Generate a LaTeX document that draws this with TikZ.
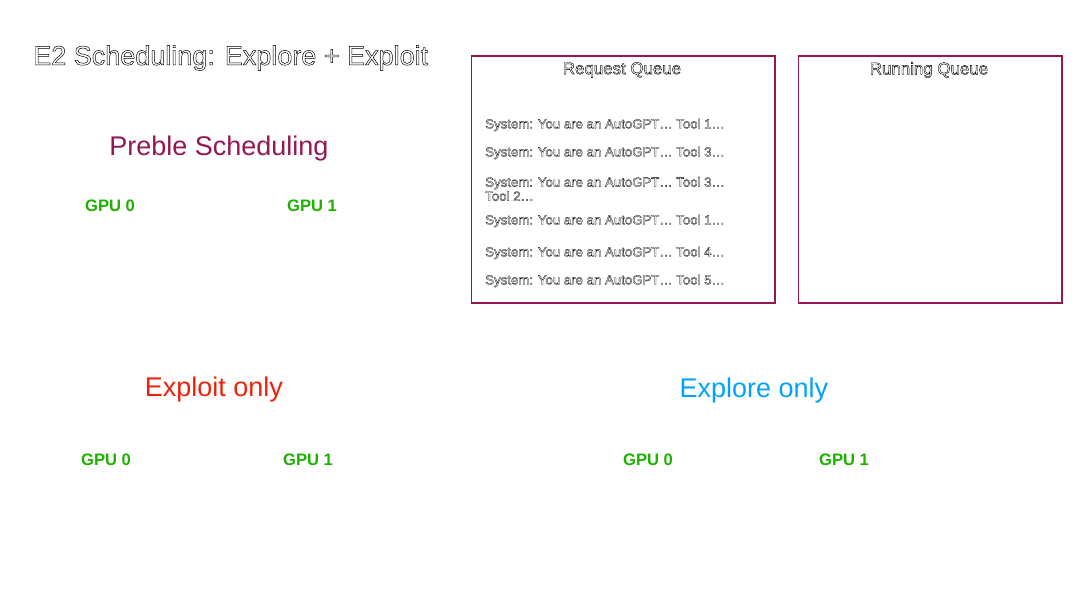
\documentclass[tikz,border=0pt]{standalone}
\usepackage{fontspec}
\setmainfont{Liberation Sans}
\usetikzlibrary{positioning}

\definecolor{plum}{HTML}{941751}
\definecolor{gpugreen}{HTML}{1DB100}
\definecolor{exploitred}{HTML}{EE220C}
\definecolor{exploreblue}{HTML}{00A2FF}

% outlined (hollow) letters
\newcommand{\hollow}[2][0.3]{\special{pdf:literal direct 1 Tr #1 w}#2\special{pdf:literal direct 0 Tr}}

\begin{document}
\begin{tikzpicture}[
    x=0.025cm, y=-0.025cm,
    heading/.style = {inner sep=0pt, font=\fontsize{19.2}{22}\selectfont},
    gpu/.style = {inner sep=0pt, text=gpugreen, font=\fontsize{11.8}{14}\selectfont\bfseries},
    queue/.style = {draw=plum, line width=1.4pt, anchor=north west, minimum height=6.175cm},
    qtitle/.style = {inner sep=0pt, font=\fontsize{12}{14}\selectfont},
    req/.style = {inner sep=0pt, anchor=west, align=left, font=\fontsize{9.4}{10}\selectfont}
]
\useasboundingbox (0,0) rectangle (1080,608);

% title
\node[heading, anchor=west] (title) at (33,58) {\hollow[0.35]{E2 Scheduling: Explore + Exploit}};

% preble
\node[heading, text=plum] (preble) at (219,149) {Preble Scheduling};
\node[gpu] (pgpu0) at (110,206) {GPU 0};
\node[gpu] (pgpu1) at (312,206) {GPU 1};

% queues
\node[queue, minimum width=7.575cm] (reqq) at (470.5,55) {};
\node[queue, minimum width=6.575cm] (runq) at (797.5,55) {};
\node[qtitle] (reqtitle) at (622,70) {\hollow{Request Queue}};
\node[qtitle] (runtitle) at (929,70) {\hollow{Running Queue}};

\node[req] (r1) at (485,125) {\hollow[0.2]{System: You are an AutoGPT… Tool 1…}};
\node[req] (r2) at (485,153) {\hollow[0.2]{System: You are an AutoGPT… Tool 3…}};
\node[req] (r3) at (485,189) {\hollow[0.2]{System: You are an AutoGPT… Tool 3…}\\\hollow[0.2]{Tool 2…}};
\node[req] (r4) at (485,221) {\hollow[0.2]{System: You are an AutoGPT… Tool 1…}};
\node[req] (r5) at (485,253) {\hollow[0.2]{System: You are an AutoGPT… Tool 4…}};
\node[req] (r6) at (485,281) {\hollow[0.2]{System: You are an AutoGPT… Tool 5…}};

% exploit only
\node[heading, text=exploitred] (exploit) at (214,390) {Exploit only};
\node[gpu] (xgpu0) at (106,460) {GPU 0};
\node[gpu] (xgpu1) at (308,460) {GPU 1};

% explore only
\node[heading, text=exploreblue] (explore) at (754,391) {Explore only};
\node[gpu] (egpu0) at (648,460) {GPU 0};
\node[gpu] (egpu1) at (844,460) {GPU 1};

\end{tikzpicture}
\end{document}
